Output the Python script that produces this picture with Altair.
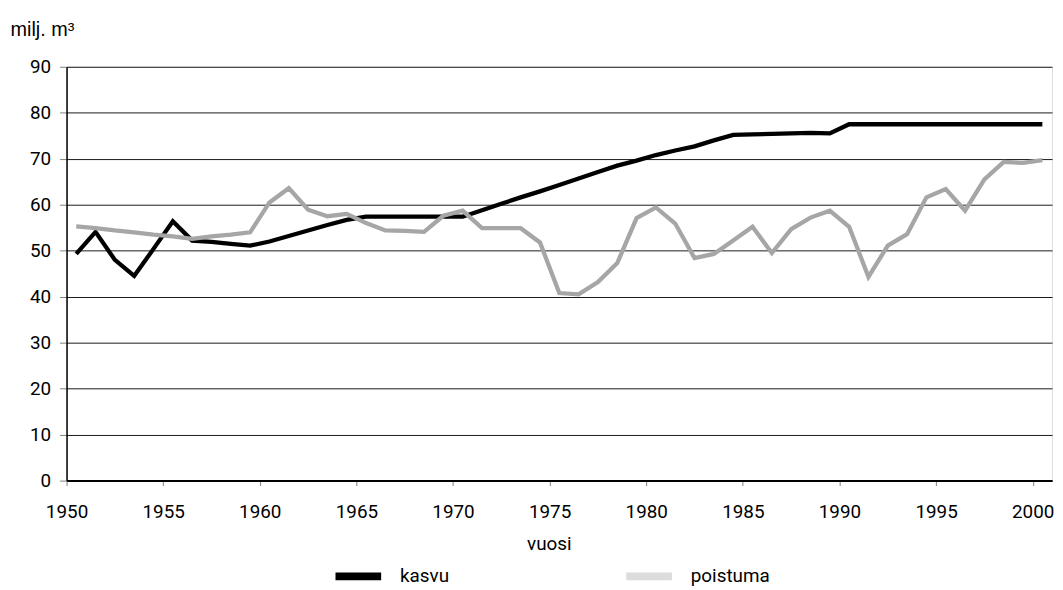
import altair as alt
import pandas as pd

years = list(range(1950, 2001))
kasvu = [49.3, 54.1, 48.0, 44.5, 50.4, 56.4, 52.2, 51.9, 51.5, 51.1,
         52.0, 53.2, 54.4, 55.6, 56.7, 57.4, 57.4, 57.4, 57.4, 57.4,
         57.4, 58.8, 60.2, 61.6, 62.9, 64.3, 65.7, 67.1, 68.5, 69.6,
         70.8, 71.8, 72.7, 74.0, 75.2, 75.3, 75.4, 75.5, 75.6, 75.5,
         77.5, 77.5, 77.5, 77.5, 77.5, 77.5, 77.5, 77.5, 77.5, 77.5, 77.5]
poistuma = [55.3, 54.9, 54.4, 54.0, 53.5, 53.1, 52.6, 53.1, 53.5, 54.0,
            60.5, 63.6, 58.9, 57.5, 58.0, 56.0, 54.4, 54.3, 54.1, 57.6,
            58.7, 54.9, 54.9, 54.9, 51.8, 40.8, 40.5, 43.2, 47.3, 57.1,
            59.4, 55.9, 48.4, 49.3, 52.2, 55.2, 49.5, 54.7, 57.2, 58.7,
            55.2, 44.3, 51.1, 53.6, 61.6, 63.4, 58.7, 65.5, 69.3, 69.1, 69.7]
series = ["kasvu", "poistuma"]
line_colors = ["#000000", "#a6a6a6"]
legend_colors = ["#000000", "#dcdcdc"]
x_ticks = list(range(1950, 2001, 5))
y_ticks = list(range(0, 91, 10))

rows = []
for name, vals in zip(series, [kasvu, poistuma]):
    for i, (yr, v) in enumerate(zip(years, vals)):
        rows.append({"vuosi": yr, "arvo": v, "sarja": name, "ord": i})
df = pd.DataFrame(rows)

NARROW = "Roboto, Liberation Sans, sans-serif"
REG = "Liberation Sans, Arial, sans-serif"
FS = 19

x_enc = alt.X("xpos:Q",
              scale=alt.Scale(domain=[1950, 2001], nice=False, zero=False),
              axis=alt.Axis(values=x_ticks, format="d", tickSize=5, tickColor="#808080",
                            tickWidth=1, labelPadding=17, labelFont=NARROW, labelFontSize=FS,
                            labelColor="#000000", domainColor="#000000", domainWidth=2,
                            grid=False, title="vuosi", titleFont=NARROW, titleFontSize=FS,
                            titleFontWeight="normal", titleColor="#000000",
                            titleX=486, titleY=69, titleAlign="center",
                            titleBaseline="alphabetic", labelFlush=False))
y_enc = alt.Y("arvo:Q",
              scale=alt.Scale(domain=[0, 90], nice=False),
              axis=alt.Axis(values=y_ticks, tickSize=7, tickColor="#808080", tickWidth=1,
                            labelPadding=9, labelFont=NARROW, labelFontSize=FS,
                            labelColor="#000000", domainColor="#000000", domainWidth=1.5,
                            grid=True, gridColor="#1a1a1a", gridWidth=1,
                            title="milj. m³", titleFont=REG, titleFontSize=20,
                            titleFontWeight="normal", titleColor="#000000",
                            titleAngle=0, titleAlign="left", titleBaseline="alphabetic",
                            titleX=-57, titleY=-32))

base = alt.Chart(df).transform_calculate(xpos="datum.vuosi + 0.5")

lines = base.mark_line(strokeWidth=4.3, strokeJoin="miter").encode(
    x=x_enc, y=y_enc,
    color=alt.Color("sarja:N", scale=alt.Scale(domain=series, range=line_colors), legend=None),
    order=alt.Order("ord:Q"),
)

legend_layer = base.transform_filter("false").mark_point(filled=True).encode(
    x=alt.X("xpos:Q"), y=alt.Y("arvo:Q"),
    fill=alt.Fill("sarja:N", scale=alt.Scale(domain=series, range=legend_colors),
                  legend=alt.Legend(orient="none", legendX=271, legendY=490.5,
                                    direction="horizontal", title=None, padding=0,
                                    symbolType="M-1,-0.174L1,-0.174L1,0.174L-1,0.174Z",
                                    symbolSize=2116, symbolStrokeWidth=0, symbolOpacity=1,
                                    labelFont=NARROW, labelFontSize=FS, labelColor="#000000",
                                    labelOffset=19, columnPadding=178)),
)

chart = alt.layer(lines, legend_layer).resolve_scale(color="independent", fill="independent").properties(
    width=993, height=417,
    autosize=alt.AutoSizeParams(type="none"),
    padding={"left": 59, "top": 57, "right": 3, "bottom": 108},
).configure_view(
    stroke="#000000", strokeWidth=2
).configure(background="#ffffff")

chart.save("out.html", embed_options={"renderer": "svg", "actions": False})
